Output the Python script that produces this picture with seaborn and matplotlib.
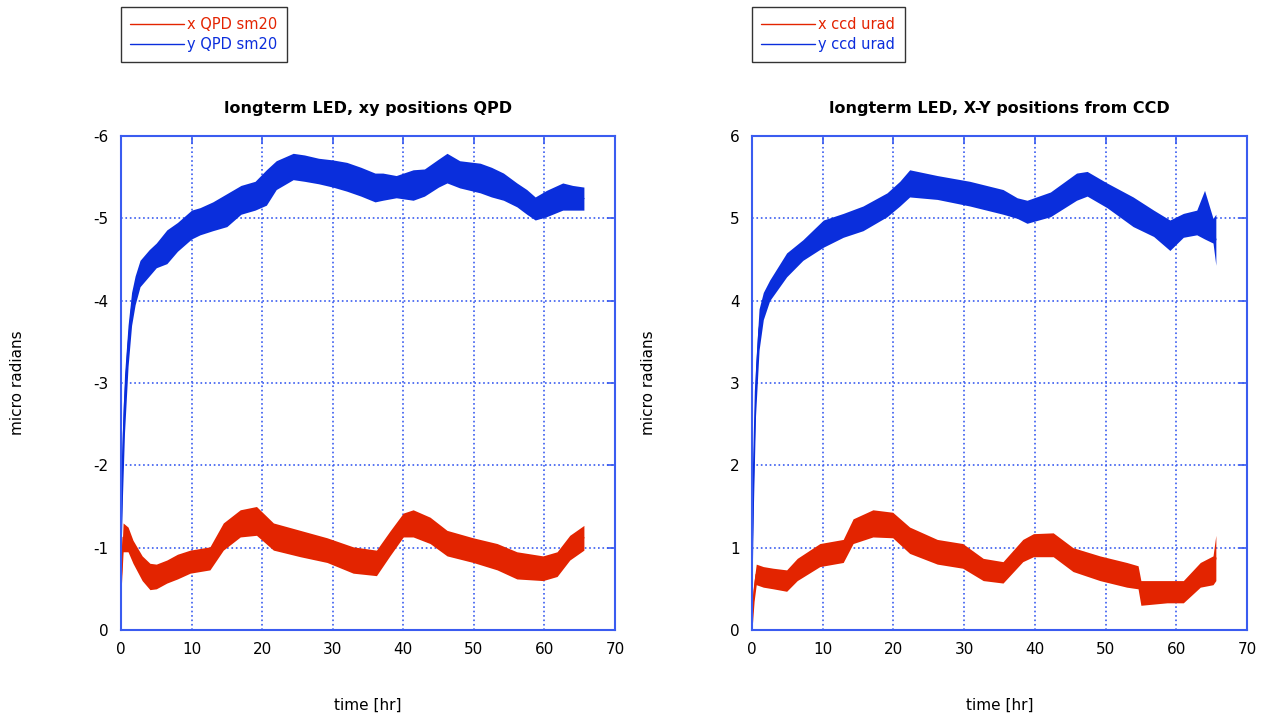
import pandas as pd
import matplotlib.pyplot as plt
import seaborn as sns
from matplotlib.lines import Line2D

# ---- QPD panel (values are negative, axis inverted) ----
# envelope of the noisy traces: time, low and high magnitude
t_qpd_y = [0, 0.2, 0.5, 1, 1.5, 2, 2.7, 4, 5, 6.5, 8, 10, 11.2, 13, 15, 17, 19, 20.6, 22, 24.4,
           26, 28, 30, 32, 34, 36, 37.1, 39, 41.4, 43, 45, 46.2, 48, 50.9, 52.5, 54.2, 56.1,
           57.5, 58.7, 60.3, 62.6, 64, 65.6]
qpd_y_lo = [0.9, 1.6, 2.4, 3.2, 3.7, 3.95, 4.17, 4.3, 4.4, 4.45, 4.6, 4.75, 4.8, 4.85, 4.9, 5.05,
            5.1, 5.16, 5.35, 5.47, 5.45, 5.42, 5.38, 5.33, 5.27, 5.2, 5.22, 5.25, 5.22, 5.27,
            5.38, 5.43, 5.37, 5.31, 5.26, 5.22, 5.14, 5.05, 4.98, 5.02, 5.1, 5.1, 5.1]
qpd_y_hi = [1.4, 2.4, 3.1, 3.7, 4.1, 4.3, 4.49, 4.62, 4.7, 4.86, 4.95, 5.1, 5.13, 5.2, 5.3, 5.4,
            5.45, 5.59, 5.7, 5.79, 5.77, 5.73, 5.71, 5.68, 5.62, 5.55, 5.55, 5.52, 5.59, 5.6,
            5.72, 5.79, 5.7, 5.67, 5.62, 5.55, 5.43, 5.35, 5.26, 5.34, 5.43, 5.4, 5.38]

t_qpd_x = [0, 0.3, 1, 1.7, 3, 4.1, 5, 6.5, 8, 9.8, 12.6, 14.5, 16.9, 19.2, 21.6, 25.4, 29.2,
           32.9, 36.2, 38.1, 40, 41.4, 43.8, 46.2, 49.9, 53.3, 56.1, 59.8, 61.8, 63.6, 65.6]
qpd_x_lo = [0.45, 0.95, 0.95, 0.81, 0.6, 0.49, 0.5, 0.57, 0.62, 0.69, 0.73, 0.97, 1.13, 1.15,
            0.97, 0.89, 0.82, 0.69, 0.66, 0.9, 1.13, 1.13, 1.05, 0.9, 0.82, 0.73, 0.62, 0.6,
            0.65, 0.85, 0.97]
qpd_x_hi = [0.7, 1.3, 1.25, 1.09, 0.9, 0.81, 0.8, 0.85, 0.92, 0.97, 1.01, 1.3, 1.46, 1.5, 1.3,
            1.21, 1.12, 1.01, 0.97, 1.2, 1.42, 1.46, 1.37, 1.21, 1.12, 1.05, 0.95, 0.9, 0.95,
            1.15, 1.27]

# ---- CCD panel ----
t_ccd_y = [0, 0.2, 0.5, 1, 1.6, 2.5, 4.9, 7.2, 10.1, 12.9, 15.7, 19.1, 20.9, 22.3, 26.2, 30.8,
           35.5, 37.5, 38.9, 42.2, 45.9, 47.4, 50.2, 53.9, 56.8, 59.1, 61, 62.9, 64, 65.2, 65.6]
ccd_y_lo = [0.5, 1.5, 2.6, 3.4, 3.77, 4.0, 4.29, 4.49, 4.65, 4.77, 4.85, 5.02, 5.15, 5.26, 5.23,
            5.15, 5.05, 5.0, 4.94, 5.02, 5.22, 5.27, 5.13, 4.9, 4.78, 4.61, 4.77, 4.8, 4.75,
            4.7, 4.43]
ccd_y_hi = [1.2, 2.2, 3.2, 3.9, 4.1, 4.25, 4.58, 4.74, 4.98, 5.06, 5.15, 5.31, 5.45, 5.59, 5.52,
            5.45, 5.35, 5.25, 5.22, 5.32, 5.55, 5.57, 5.43, 5.26, 5.1, 4.98, 5.06, 5.1, 5.34,
            5.0, 5.05]

t_ccd_x = [0, 0.3, 0.6, 1.6, 3, 4.9, 6.4, 9.6, 12.9, 14.3, 17.1, 19.9, 22.3, 26.2, 29.8, 32.7,
           35.5, 38.3, 39.8, 42.6, 45.4, 49.2, 53, 54.6, 55, 58.7, 61, 63.4, 65.2, 65.6]
ccd_x_lo = [0.0, 0.35, 0.55, 0.52, 0.5, 0.47, 0.6, 0.77, 0.82, 1.05, 1.13, 1.12, 0.93, 0.8, 0.75,
            0.6, 0.57, 0.83, 0.89, 0.89, 0.71, 0.6, 0.52, 0.5, 0.3, 0.33, 0.33, 0.52, 0.55, 0.6]
ccd_x_hi = [0.3, 0.6, 0.8, 0.77, 0.75, 0.73, 0.87, 1.05, 1.1, 1.35, 1.46, 1.43, 1.25, 1.1, 1.05,
            0.87, 0.83, 1.1, 1.17, 1.18, 1.0, 0.9, 0.82, 0.78, 0.6, 0.6, 0.6, 0.82, 0.9, 1.15]

red = "#e32400"
blue = "#0a2edc"
gridblue = "#3a5cf0"

sns.set_style("white")
plt.rcParams["font.family"] = ["DejaVu Sans"]
plt.rcParams["axes.unicode_minus"] = False
plt.rcParams["text.color"] = "black"
plt.rcParams["axes.labelcolor"] = "black"
plt.rcParams["xtick.labelcolor"] = "black"
plt.rcParams["ytick.labelcolor"] = "black"


def band(t, lo, hi, sign=1):
    # two observations per time -> seaborn draws min..max band
    return pd.DataFrame({"t": t + t, "v": [sign * v for v in lo + hi]})


def draw(ax, traces, legend_labels, title, ylim, yticks):
    for df, col in traces:
        sns.lineplot(data=df, x="t", y="v", ax=ax, color=col, estimator="mean",
                     errorbar=("pi", 100), linewidth=1,
                     err_kws={"alpha": 1, "linewidth": 0})
    ax.set_xlim(0, 70)
    ax.set_ylim(*ylim)
    ax.set_xticks(range(0, 71, 10))
    ax.set_yticks(yticks)
    ax.grid(True, color=gridblue, linestyle=":", linewidth=1.2)
    for s in ax.spines.values():
        s.set_color(gridblue)
        s.set_linewidth(1.5)
    ax.tick_params(direction="in", top=True, right=True, color=gridblue, length=6,
                   width=1.2, labelsize=11, pad=9, labelcolor="black")
    ax.set_xlabel("time [hr]", fontsize=11, color="black")
    ax.set_ylabel("micro radians", fontsize=11, color="black")
    ax.xaxis.set_label_coords(0.5, -0.137)
    ax.yaxis.set_label_coords(-0.194, 0.5)
    ax.set_title(title, fontsize=11.5, fontweight="bold", y=1.047, pad=0, color="black")
    handles = [Line2D([], [], color=red, lw=1), Line2D([], [], color=blue, lw=1)]
    leg = ax.legend(handles, legend_labels, loc="lower left", bbox_to_anchor=(0, 1.15),
                    borderaxespad=0, fancybox=False, edgecolor="black", fontsize=10.5,
                    labelcolor="linecolor", handlelength=3.7, handletextpad=0.2,
                    borderpad=0.65, labelspacing=0.4)
    leg.get_frame().set_linewidth(1)


fig = plt.figure(figsize=(12.63, 7.19), dpi=100)
ax1 = fig.add_axes([0.0958, 0.1238, 0.3911, 0.687])
ax2 = fig.add_axes([0.5954, 0.1238, 0.3919, 0.687])

draw(ax1,
     [(band(t_qpd_x, qpd_x_lo, qpd_x_hi, -1), red), (band(t_qpd_y, qpd_y_lo, qpd_y_hi, -1), blue)],
     ["x QPD sm20", "y QPD sm20"], "longterm LED, xy positions QPD", (0, -6), range(0, -7, -1))
draw(ax2,
     [(band(t_ccd_x, ccd_x_lo, ccd_x_hi), red), (band(t_ccd_y, ccd_y_lo, ccd_y_hi), blue)],
     ["x ccd urad", "y ccd urad"], "longterm LED, X-Y positions from CCD", (0, 6), range(0, 7))

plt.savefig("out.png", dpi=100)
plt.close()
